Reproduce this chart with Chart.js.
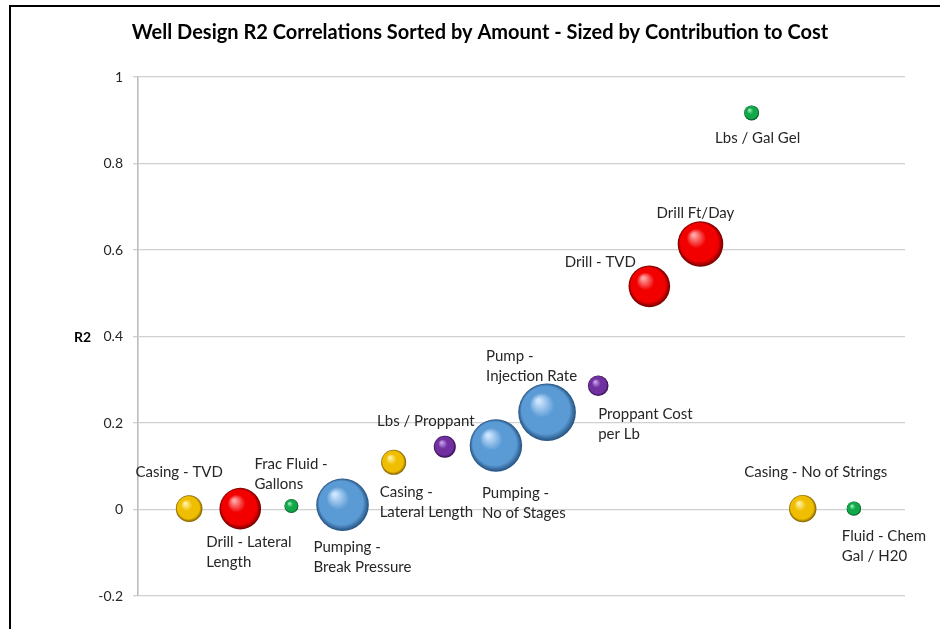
<!DOCTYPE html>
<html>
<head>
<meta charset="utf-8">
<script src="https://cdn.jsdelivr.net/npm/chart.js@4"></script>
<style>
  html, body { margin: 0; padding: 0; background: #ffffff; overflow: hidden; }
  #wrap { position: absolute; left: 0; top: 0; width: 940px; height: 629px; }
  #frame { position: absolute; left: 9px; top: 5px; width: 960px; height: 660px; border: 2px solid #000; box-sizing: border-box; pointer-events: none; }
  canvas { position: absolute; left: 0; top: 0; }
</style>
</head>
<body>
<div id="wrap">
  <canvas id="c" width="940" height="629"></canvas>
  <div id="frame"></div>
</div>
<script>
// ---- data ----
const categories = [
  "Casing - TVD",
  "Drill - Lateral\nLength",
  "Frac Fluid -\nGallons",
  "Pumping -\nBreak Pressure",
  "Casing -\nLateral Length",
  "Lbs / Proppant",
  "Pumping -\nNo of Stages",
  "Pump -\nInjection Rate",
  "Proppant Cost\nper Lb",
  "Drill - TVD",
  "Drill Ft/Day",
  "Lbs / Gal Gel",
  "Casing - No of Strings",
  "Fluid - Chem\nGal / H20"
];
const groups = ["Casing","Drill","Fluid","Pumping","Casing","Proppant","Pumping","Pumping","Proppant","Drill","Drill","Fluid","Casing","Fluid"];
const r2Values = [0.002, 0.002, 0.008, 0.011, 0.109, 0.145, 0.148, 0.225, 0.286, 0.516, 0.614, 0.917, 0.002, 0.002];
const costContribution = [13.3, 20.8, 7, 26.3, 12.5, 11, 26.2, 28.8, 10.3, 20.8, 22.8, 7.5, 13.7, 7.2];
const yTicks = [-0.2, 0, 0.2, 0.4, 0.6, 0.8, 1];

// ---- label layout (offsets from bubble centre, px) ----
const labelLayout = [
  {dx: -10, dy: -36, align: "center"},
  {dx: -34, dy: 34, align: "left"},
  {dx: -37, dy: -42, align: "left"},
  {dx: -29, dy: 42, align: "left"},
  {dx: -14, dy: 30, align: "left"},
  {dx: -19, dy: -26, align: "center"},
  {dx: -14, dy: 48, align: "left"},
  {dx: -61, dy: -56, align: "left"},
  {dx: 0, dy: 28, align: "left"},
  {dx: -49, dy: -24, align: "center"},
  {dx: -5, dy: -31, align: "center"},
  {dx: 6, dy: 25, align: "center"},
  {dx: 13, dy: -36, align: "center"},
  {dx: -12, dy: 28, align: "left"}
];

const palette = {
  Casing:   ["#fff3a8", "#f0be00", "#7d5c00"],
  Drill:    ["#ffa8a8", "#f20000", "#700000"],
  Fluid:    ["#a0eebc", "#10a848", "#00441a"],
  Pumping:  ["#cfe6ff", "#5b9bd5", "#23507e"],
  Proppant: ["#c9a0ee", "#7030a0", "#2c0848"]
};

const FONT = "Lato, 'Open Sans', sans-serif";

const points = categories.map((c, i) => ({ x: i + 1, y: r2Values[i], r: costContribution[i] }));

function sphereFill(ctx) {
  if (ctx.type !== 'data') return '#888';
  const chart = ctx.chart;
  const cols = palette[groups[ctx.dataIndex]];
  const xs = chart.scales.x, ys = chart.scales.y;
  if (!xs || !ys) return cols[1];
  const raw = ctx.raw;
  const px = xs.getPixelForValue(raw.x), py = ys.getPixelForValue(raw.y), r = raw.r;
  if (!isFinite(px) || !isFinite(py) || !isFinite(r)) return cols[1];
  const g = chart.ctx.createRadialGradient(px - r * 0.3, py - r * 0.4, r * 0.05, px, py, r);
  g.addColorStop(0, cols[0]);
  g.addColorStop(0.4, cols[1]);
  g.addColorStop(0.82, cols[1]);
  g.addColorStop(1, cols[2]);
  return g;
}

const overlay = {
  id: 'overlay',
  afterDraw(chart) {
    const c = chart.ctx;
    c.save();
    // title
    c.fillStyle = '#000';
    c.font = "bold 20px " + FONT;
    c.textAlign = 'center';
    c.textBaseline = 'middle';
    c.fillText("Well Design R2 Correlations Sorted by Amount - Sized by Contribution to Cost", 480, 33);
    // y title
    c.font = "bold 14px " + FONT;
    c.textAlign = 'right';
    c.fillText("R2", 91, 337);
    // data labels
    c.font = "15px " + FONT;
    c.fillStyle = '#262626';
    const meta = chart.getDatasetMeta(0);
    meta.data.forEach((el, i) => {
      const L = labelLayout[i];
      const lines = categories[i].split("\n");
      c.textAlign = L.align;
      lines.forEach((ln, k) => {
        c.fillText(ln, el.x + L.dx, el.y + L.dy + k * 20);
      });
    });
    c.restore();
  }
};

new Chart(document.getElementById('c'), {
  type: 'bubble',
  data: {
    datasets: [{
      data: points,
      backgroundColor: sphereFill,
      hoverBackgroundColor: sphereFill,
      borderWidth: 0,
      hoverBorderWidth: 0
    }]
  },
  options: {
    responsive: false,
    animation: false,
    devicePixelRatio: 1,
    layout: { padding: { top: 77, bottom: 33, left: 0, right: 35 } },
    plugins: { legend: { display: false }, tooltip: { enabled: false }, title: { display: false } },
    scales: {
      x: {
        type: 'linear', min: 0, max: 15, display: false
      },
      y: {
        type: 'linear', min: -0.2, max: 1,
        afterBuildTicks(scale) { scale.ticks = yTicks.map(v => ({ value: v })); },
        afterFit(scale) { scale.width = 138; },
        grid: { color: '#d0d0d0', lineWidth: 1.3, tickLength: 5, drawTicks: true },
        border: { display: true, color: '#bdbdbd', width: 1.6 },
        ticks: {
          padding: 10,
          color: '#262626',
          font: { family: FONT, size: 14 },
          callback: v => String(Math.round(v * 10) / 10)
        }
      }
    }
  },
  plugins: [overlay]
});
</script>
</body>
</html>
